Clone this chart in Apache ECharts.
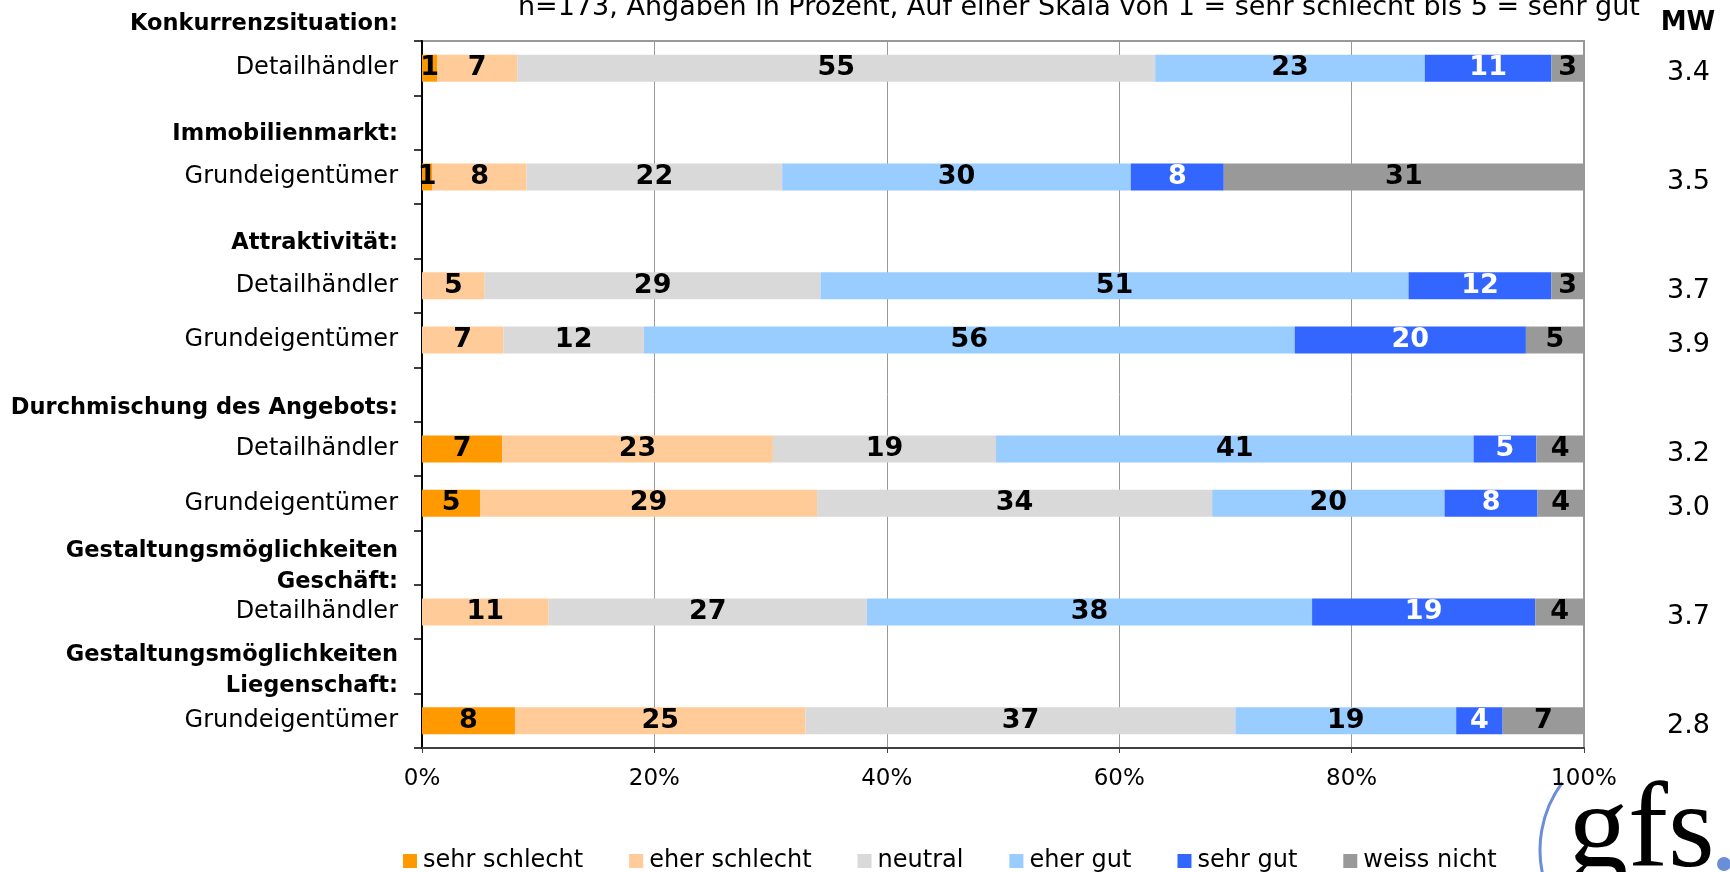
<!DOCTYPE html>
<html>
<head>
<meta charset="utf-8">
<script src="https://cdn.jsdelivr.net/npm/echarts@6/dist/echarts.min.js"></script>
<style>
  html, body { margin: 0; padding: 0; background: #fff; }
  #chart { width: 1730px; height: 872px; }
</style>
</head>
<body>
<div id="chart"></div>
<script>
// ---------- data ----------
const titleText = 'n=173, Angaben in Prozent, Auf einer Skala von 1 = sehr schlecht bis 5 = sehr gut';
const topHeader = 'Konkurrenzsituation:';
const meanHeader = 'MW';
const categories = [
  'Detailhändler',
  'Immobilienmarkt:',
  'Grundeigentümer',
  'Attraktivität:',
  'Detailhändler',
  'Grundeigentümer',
  'Durchmischung des Angebots:',
  'Detailhändler',
  'Grundeigentümer',
  'Gestaltungsmöglichkeiten\nGeschäft:',
  'Detailhändler',
  'Gestaltungsmöglichkeiten\nLiegenschaft:',
  'Grundeigentümer'
];
const seriesNames = ['sehr schlecht', 'eher schlecht', 'neutral', 'eher gut', 'sehr gut', 'weiss nicht'];
const sehrSchlecht = [1.3, null, 0.9, null, 0,    0,    null, 6.9,  5.0,  null, 0,    null, 8.0];
const eherSchlecht = [6.9, null, 8.1, null, 5.4,  7.0,  null, 23.3, 29.0, null, 10.9, null, 25.0];
const neutral      = [54.9, null, 22.0, null, 28.9, 12.1, null, 19.2, 34.0, null, 27.4, null, 37.0];
const eherGut      = [23.2, null, 30.0, null, 50.6, 56.0, null, 41.1, 20.0, null, 38.3, null, 19.0];
const sehrGut      = [10.9, null, 8.0,  null, 12.3, 19.9, null, 5.4,  8.0,  null, 19.2, null, 4.0];
const weissNicht   = [2.8, null, 31.0, null, 2.8,  5.0,  null, 4.1,  4.0,  null, 4.2,  null, 7.0];
const meanValues   = [3.4, null, 3.5, null, 3.7, 3.9, null, 3.2, 3.0, null, 3.7, null, 2.8];
const xTickValues  = [0, 20, 40, 60, 80, 100];

// ---------- styling ----------
const FONT = 'DejaVu Sans';
const colors = ['#FF9900', '#FFCC99', '#D9D9D9', '#99CCFF', '#3366FF', '#999999'];
const labelColors = ['#000', '#000', '#000', '#000', '#fff', '#000'];
const seriesValues = [sehrSchlecht, eherSchlecht, neutral, eherGut, sehrGut, weissNicht];
// vertical shift (px) of the header labels relative to their slot centre
const headerShift = { 1: 12, 3: 12, 6: 14, 9: 9, 11: 4 };

const chart = echarts.init(document.getElementById('chart'), null, { renderer: 'canvas' });

function leftLabel(value, index) {
  const t = categories[index];
  if (!t.endsWith(':')) return '{n|' + t + '}';
  const lines = t.split('\n');
  const sp = 2 * (headerShift[index] || 0);
  const head = lines.length > 1 ? lines.map(l => '{h2|' + l + '}').join('\n')
                                 : '{h|' + lines[0] + '}';
  if (sp <= 0) return head;
  return '{s' + sp + '| }\n' + head;
}

const richStyles = {
  n: { fontFamily: FONT, fontSize: 24, color: '#000', lineHeight: 24 },
  h: { fontFamily: FONT, fontSize: 22.5, fontWeight: 'bold', color: '#000', lineHeight: 24 },
  h2: { fontFamily: FONT, fontSize: 22.5, fontWeight: 'bold', color: '#000', lineHeight: 31 }
};
Object.keys(headerShift).forEach(k => {
  const sp = 2 * headerShift[k];
  if (sp > 0) richStyles['s' + sp] = { fontSize: 1, lineHeight: sp };
});

const option = {
  animation: false,
  backgroundColor: '#fff',
  textStyle: { fontFamily: FONT, color: '#000' },
  grid: { left: 422, right: 146, top: 41, bottom: 124, show: true, borderColor: '#999', borderWidth: 2, backgroundColor: 'transparent' },
  legend: {
    data: seriesNames,
    left: 398,
    top: 844,
    icon: 'rect',
    itemWidth: 14,
    itemHeight: 14,
    itemGap: 46,
    textStyle: { fontFamily: FONT, fontSize: 24, color: '#000', padding: [0, 0, 0, 1] }
  },
  xAxis: {
    type: 'value',
    min: xTickValues[0],
    max: xTickValues[xTickValues.length - 1],
    interval: xTickValues[1] - xTickValues[0],
    axisLine: { show: true, lineStyle: { color: '#404040', width: 2 } },
    axisTick: { show: true, length: 5, lineStyle: { color: '#404040', width: 1 } },
    axisLabel: { formatter: '{value}%', fontFamily: FONT, fontSize: 23, color: '#000', margin: 20 },
    splitLine: { show: true, lineStyle: { color: '#999', width: 1 } }
  },
  yAxis: [
    {
      type: 'category',
      inverse: true,
      data: categories,
      axisLine: { show: true, lineStyle: { color: '#000', width: 2 } },
      axisTick: { show: true, length: 8, lineStyle: { color: '#000', width: 1.5 } },
      axisLabel: {
        interval: 0,
        margin: 24,
        formatter: leftLabel,
        rich: richStyles
      },
      splitLine: { show: false }
    },
    {
      type: 'category',
      inverse: true,
      position: 'right',
      data: categories,
      axisLine: { show: false },
      axisTick: { show: false },
      axisLabel: {
        interval: 0,
        margin: 83,
        formatter: (v, i) => meanValues[i] == null ? '' : '{sp| }\n{v|' + meanValues[i].toFixed(1) + '}',
        rich: {
          sp: { fontSize: 1, lineHeight: 10 },
          v: { fontFamily: FONT, fontSize: 27, color: '#000', lineHeight: 28 }
        }
      },
      splitLine: { show: false }
    }
  ],
  series: seriesNames.map((name, k) => ({
    name: name,
    type: 'bar',
    stack: 'total',
    barWidth: 27,
    itemStyle: { color: colors[k] },
    label: {
      show: true,
      position: 'inside',
      fontFamily: FONT,
      fontSize: 27,
      fontWeight: 'bold',
      color: labelColors[k],
      formatter: p => (p.value ? String(Math.round(p.value)) : '')
    },
    emphasis: { disabled: true },
    data: seriesValues[k].map(v => (v == null ? '-' : v))
  })),
  graphic: [
    {
      type: 'text', left: 518, top: -6, silent: true,
      style: { text: titleText, font: '27px "DejaVu Sans"', fill: '#000' }
    },
    {
      type: 'text', x: 398, y: 24, silent: true,
      style: { text: topHeader, font: 'bold 22.5px "DejaVu Sans"', fill: '#000', align: 'right', verticalAlign: 'middle' }
    },
    {
      type: 'text', x: 1688, y: 23, silent: true,
      style: { text: meanHeader, font: 'bold 26px "DejaVu Sans"', fill: '#000', align: 'center', verticalAlign: 'middle' }
    },
    {
      type: 'arc', silent: true,
      shape: { cx: 1653, cy: 850, r: 113, startAngle: 2.85, endAngle: 3.78, clockwise: true },
      style: { stroke: '#6A8ED8', lineWidth: 3, fill: null }
    },
    {
      type: 'text', x: 1568, y: 834, silent: true,
      style: { text: 'gfs', font: '120px "Liberation Serif"', fill: '#000', align: 'left', verticalAlign: 'middle' }
    },
    {
      type: 'circle', silent: true,
      shape: { cx: 1724, cy: 864, r: 7 },
      style: { fill: '#6A8ED8' }
    }
  ]
};

chart.setOption(option);
</script>
</body>
</html>
